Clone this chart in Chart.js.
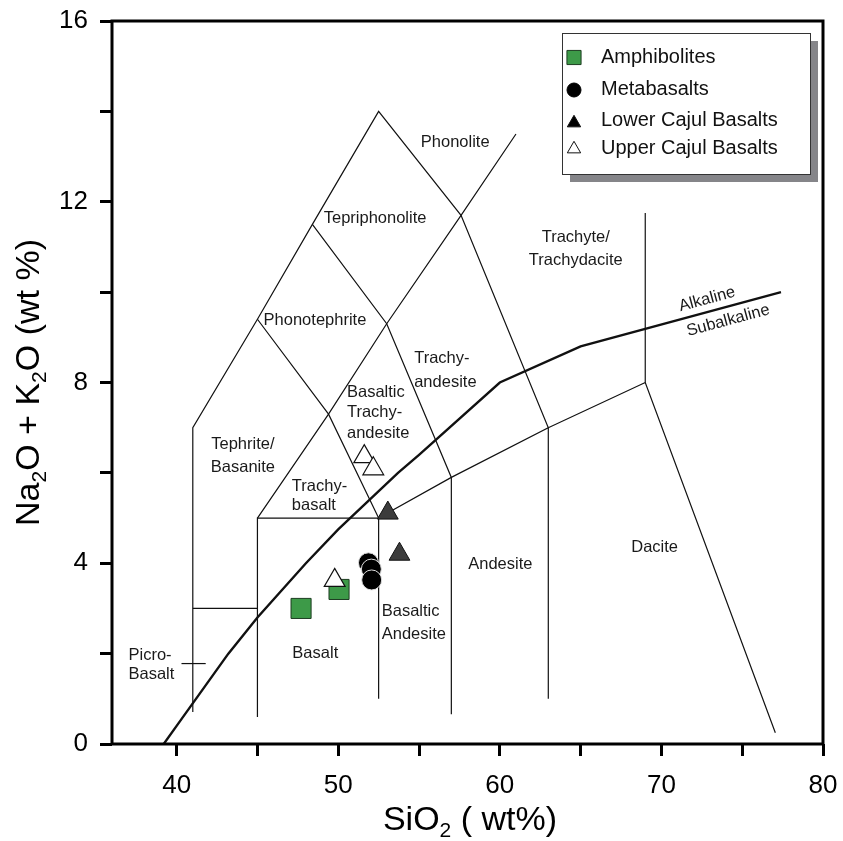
<!DOCTYPE html>
<html>
<head>
<meta charset="utf-8">
<script src="https://cdn.jsdelivr.net/npm/chart.js@4.4.1/dist/chart.umd.min.js"></script>
<style>
  body { margin: 0; background: #fff; }
  canvas { display: block; }
</style>
</head>
<body>
<canvas id="tas-chart" width="843" height="841"></canvas>
<script>
// samples: [SiO2, Na2O + K2O]
const amphibolites = [[47.7, 3.0], [50.05, 3.42]]
const metabasalts = [[51.87, 4.01], [52.05, 3.87], [52.07, 3.63]]
const lowerCajul = [[53.07, 5.11], [53.79, 4.2]]
const upperCajul = [[51.61, 6.36], [52.17, 6.09], [49.78, 3.62]]

// TAS field boundaries (Le Bas et al.)
const outerBoundary = [[41, 0.71], [41, 7], [45, 9.4], [48.4, 11.5], [52.5, 14], [57.6, 11.7], [63, 7], [69, 8], [77.05, 0.25]]
const basaltBox = [[45, 0.6], [45, 5], [52.5, 5], [52.5, 1.0]]
const trachyDiagonal = [[45, 5], [49.4, 7.3], [53, 9.3], [57.6, 11.7], [61, 13.5]]
const trachybasaltRight = [[45, 9.4], [49.4, 7.3], [52.5, 5]]
const andesiteLeft = [[48.4, 11.5], [53, 9.3], [57, 5.9], [57, 0.66]]
const andesiteTop = [[52.5, 5], [57, 5.9], [63, 7], [63, 1.0]]
const daciteRight = [[69, 8], [69, 11.75]]
const picroTop = [[41, 3], [45, 3]]
const picroTick = [[40.3, 1.78], [41.8, 1.78]]

// alkaline / subalkaline divide (Irvine & Baragar)
const alkalineDivide = [[39.2, 0], [40, 0.4], [43.2, 2.0], [45, 2.8], [48, 4.0], [50, 4.75], [53.7, 6], [55, 6.4], [60, 8], [65, 8.8], [77.4, 10]]

const xTicks = [40, 45, 50, 55, 60, 65, 70, 75, 80]
const yTicks = [0, 2, 4, 6, 8, 10, 12, 14, 16]

// field names: text, SiO2, Na2O+K2O, align
const fieldNames = [
    ['Phonolite', 57.24, 13.32, 'center'],
    ['Tepriphonolite', 52.28, 11.62, 'center'],
    ['Phonotephrite', 48.56, 9.38, 'center'],
    ['Trachy-', 54.7, 8.54, 'left'],
    ['andesite', 54.7, 7.99, 'left'],
    ['Trachyte/', 64.7, 11.22, 'center'],
    ['Trachydacite', 64.7, 10.69, 'center'],
    ['Basaltic', 50.54, 7.79, 'left'],
    ['Trachy-', 50.54, 7.33, 'left'],
    ['andesite', 50.54, 6.88, 'left'],
    ['Tephrite/', 44.1, 6.64, 'center'],
    ['Basanite', 44.1, 6.13, 'center'],
    ['Trachy-', 47.13, 5.71, 'left'],
    ['basalt', 47.13, 5.27, 'left'],
    ['Andesite', 60.03, 3.98, 'center'],
    ['Dacite', 69.58, 4.34, 'center'],
    ['Basaltic', 52.69, 2.93, 'left'],
    ['Andesite', 52.69, 2.43, 'left'],
    ['Basalt', 48.58, 2.01, 'center'],
    ['Picro-', 37.02, 1.97, 'left'],
    ['Basalt', 37.02, 1.53, 'left'],
]

const FONT = '"Liberation Sans", Arial, Helvetica, sans-serif'

function toPoints(arr) {
    return arr.map(p => ({ x: p[0], y: p[1] }))
}

function boundary(arr, width) {
    return {
        data: toPoints(arr),
        showLine: true,
        borderColor: '#111',
        borderWidth: width,
        pointRadius: 0,
        pointHoverRadius: 0,
        fill: false,
        order: 10,
    }
}

const samples = [
    { label: 'Amphibolites', data: toPoints(amphibolites), pointStyle: 'rect', pointRadius: 14.2,
      backgroundColor: '#3d9a48', borderColor: '#1e3d22', borderWidth: 1, order: 4, legendRadius: 10 },
    { label: 'Metabasalts', data: toPoints(metabasalts), pointStyle: 'circle', pointRadius: 10,
      backgroundColor: '#000', borderColor: '#ddd', borderWidth: 1, order: 3, legendRadius: 7, legendBorder: '#000' },
    { label: 'Lower Cajul Basalts', data: toPoints(lowerCajul), pointStyle: 'triangle', pointRadius: 12,
      backgroundColor: '#3c3c3c', borderColor: '#111', borderWidth: 1, order: 2, legendRadius: 7.7, legendFill: '#000' },
    { label: 'Upper Cajul Basalts', data: toPoints(upperCajul), pointStyle: 'triangle', pointRadius: 12,
      backgroundColor: '#fff', borderColor: '#111', borderWidth: 1.2, order: 1, legendRadius: 7.7 },
]
samples.forEach(s => { s.pointHoverRadius = s.pointRadius })

function drawSubText(ctx, parts, size) {
    // parts: [text, isSub]
    const subSize = Math.round(size * 0.62)
    let total = 0
    parts.forEach(p => {
        ctx.font = (p[1] ? subSize : size) + 'px ' + FONT
        total += ctx.measureText(p[0]).width
    })
    let x = -total / 2
    parts.forEach(p => {
        ctx.font = (p[1] ? subSize : size) + 'px ' + FONT
        ctx.fillText(p[0], x, p[1] ? size * 0.22 : 0)
        x += ctx.measureText(p[0]).width
    })
}

const tasPlugin = {
    id: 'tas',
    beforeDatasetsDraw(chart) {
        const ctx = chart.ctx
        const xs = chart.scales.x
        const ys = chart.scales.y
        ctx.save()
        ctx.fillStyle = '#1a1a1a'
        ctx.font = '16.5px ' + FONT
        ctx.textBaseline = 'middle'
        fieldNames.forEach(f => {
            ctx.textAlign = f[3]
            ctx.fillText(f[0], xs.getPixelForValue(f[1]), ys.getPixelForValue(f[2]))
        })
        // rotated labels along the divide
        const a = alkalineDivide[alkalineDivide.length - 2]
        const b = alkalineDivide[alkalineDivide.length - 1]
        const ang = Math.atan2(ys.getPixelForValue(b[1]) - ys.getPixelForValue(a[1]),
                               xs.getPixelForValue(b[0]) - xs.getPixelForValue(a[0]))
        ctx.textAlign = 'center'
        ;[['Alkaline', 72.83, 9.84], ['Subalkaline', 74.13, 9.37]].forEach(t => {
            ctx.save()
            ctx.translate(xs.getPixelForValue(t[1]), ys.getPixelForValue(t[2]))
            ctx.rotate(ang)
            ctx.fillText(t[0], 0, 0)
            ctx.restore()
        })
        ctx.restore()
    },
    afterDraw(chart) {
        const ctx = chart.ctx
        const area = chart.chartArea
        ctx.save()
        // frame
        ctx.strokeStyle = '#000'
        ctx.lineWidth = 3
        ctx.strokeRect(area.left, area.top, area.right - area.left, area.bottom - area.top)

        // legend with drop shadow
        const lx = 562, ly = 33, lw = 248, lh = 141
        ctx.fillStyle = '#858589'
        ctx.fillRect(lx + 8, ly + 8, lw, lh)
        ctx.fillStyle = '#fff'
        ctx.fillRect(lx, ly, lw, lh)
        ctx.strokeStyle = '#333'
        ctx.lineWidth = 1
        ctx.strokeRect(lx + 0.5, ly + 0.5, lw, lh)
        const rows = [57.5, 90, 123, 149]
        const textRows = [57, 89.5, 120, 148]
        ctx.font = '20px ' + FONT
        ctx.textBaseline = 'middle'
        ctx.textAlign = 'left'
        samples.forEach((s, i) => {
            ctx.fillStyle = s.legendFill || s.backgroundColor
            ctx.strokeStyle = s.legendBorder || s.borderColor
            ctx.lineWidth = 1
            Chart.helpers.drawPoint(ctx, { pointStyle: s.pointStyle, radius: s.legendRadius, borderWidth: 1, rotation: 0 }, 574, rows[i])
            ctx.fillStyle = '#111'
            ctx.fillText(s.label, 601, textRows[i])
        })

        // axis titles with subscripts
        ctx.fillStyle = '#000'
        ctx.textAlign = 'left'
        ctx.textBaseline = 'alphabetic'
        ctx.save()
        ctx.translate(39, (area.top + area.bottom) / 2)
        ctx.rotate(-Math.PI / 2)
        drawSubText(ctx, [['Na', 0], ['2', 1], ['O + K', 0], ['2', 1], ['O (wt %)', 0]], 34)
        ctx.restore()
        ctx.save()
        ctx.translate(470, 830)
        drawSubText(ctx, [['SiO', 0], ['2', 1], [' ( wt%)', 0]], 34)
        ctx.restore()
        ctx.restore()
    }
}

const lineSets = [
    boundary(outerBoundary, 1.2),
    boundary(basaltBox, 1.2),
    boundary(trachyDiagonal, 1.2),
    boundary(trachybasaltRight, 1.2),
    boundary(andesiteLeft, 1.2),
    boundary(andesiteTop, 1.2),
    boundary(daciteRight, 1.2),
    boundary(picroTop, 1.2),
    boundary(picroTick, 1.2),
    boundary(alkalineDivide, 2.4),
]

new Chart(document.querySelector('#tas-chart').getContext('2d'), {
    type: 'scatter',
    data: { datasets: samples.concat(lineSets) },
    options: {
        responsive: false,
        animation: false,
        events: [],
        layout: { padding: { left: 0, right: 20, top: 21, bottom: 0 } },
        plugins: { legend: { display: false }, tooltip: { enabled: false } },
        scales: {
            x: {
                type: 'linear', min: 36, max: 80,
                afterBuildTicks: s => { s.ticks = xTicks.map(v => ({ value: v })) },
                afterFit: s => { s.height = 97; s.paddingLeft = 0; s.paddingRight = 0 },
                border: { display: false },
                grid: { drawOnChartArea: false, drawTicks: true, tickLength: 12, color: '#000', lineWidth: 3 },
                ticks: {
                    padding: 14, color: '#000', maxRotation: 0, autoSkip: false,
                    font: { family: FONT, size: 26 },
                    callback: v => (v % 10 === 0 ? String(v) : '')
                }
            },
            y: {
                type: 'linear', min: 0, max: 16,
                afterBuildTicks: s => { s.ticks = yTicks.map(v => ({ value: v })) },
                afterFit: s => { s.width = 112; s.paddingTop = 0; s.paddingBottom = 0 },
                border: { display: false },
                grid: { drawOnChartArea: false, drawTicks: true, tickLength: 12, color: '#000', lineWidth: 3 },
                ticks: {
                    padding: 12, color: '#000', autoSkip: false,
                    font: { family: FONT, size: 26 },
                    callback: v => (v % 4 === 0 ? String(v) : '')
                }
            }
        }
    },
    plugins: [tasPlugin]
});
</script>
</body>
</html>
